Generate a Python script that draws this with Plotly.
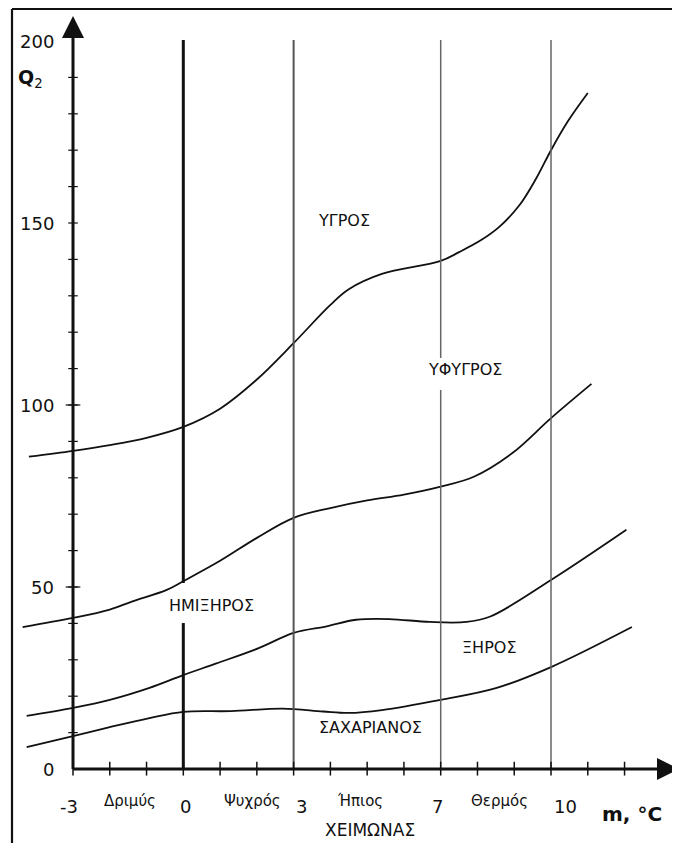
import plotly.graph_objects as go

# ---------------- data ----------------
# Boundary curves of the climate zones (x = m, °C ; y = Q2)
c1_x = [-4.2, -3, -2, -1, 0, 1, 2, 3, 4, 4.5, 5.4, 7, 7.5, 8.1, 8.6, 9.15, 9.6, 10, 10.45, 11.0]
c1_y = [85.8, 87.4, 89.0, 91.0, 94.0, 99.0, 107.0, 117.0, 127.5, 131.8, 136.0, 139.6, 142.0, 145.3, 149.0, 155.0, 162.3, 170.0, 177.8, 185.7]

c2_x = [-4.37, -3, -2, -1.4, -0.45, 0, 1, 2, 3, 4, 5, 6, 7, 7.9, 8.95, 10.0, 11.1]
c2_y = [39.0, 41.5, 43.8, 46.0, 49.2, 51.6, 57.2, 63.5, 69.0, 71.7, 73.8, 75.4, 77.6, 80.3, 86.8, 96.4, 105.8]

c3_x = [-4.26, -3, -2, -0.92, 0, 0.9, 2.05, 3, 3.9, 4.7, 5.6, 6.7, 7.7, 8.35, 10.0, 12.05]
c3_y = [14.6, 16.8, 19.0, 22.3, 25.8, 29.0, 33.2, 37.4, 39.2, 41.0, 41.2, 40.4, 40.4, 41.9, 51.9, 65.7]

c4_x = [-4.26, -3, -2, -0.92, 0, 1.3, 2.7, 3.8, 4.5, 5.4, 7, 8.5, 10.0, 12.2]
c4_y = [6.0, 9.0, 11.5, 14.0, 15.7, 15.9, 16.6, 15.8, 15.4, 16.2, 19.0, 22.2, 28.0, 39.0]

# axis ticks
x_minor_ticks = list(range(-3, 13))
y_minor_ticks = list(range(10, 200, 10))
y_tick_vals = [0, 50, 100, 150, 200]
x_num_ticks = [-3, 0, 3, 7, 10]
x_class_names = ["Δριμύς", "Ψυχρός", "Ήπιος", "Θερμός"]
zone_names = ["ΥΓΡΟΣ", "ΥΦΥΓΡΟΣ", "ΗΜΙΞΗΡΟΣ", "ΞΗΡΟΣ", "ΣΑΧΑΡΙΑΝΟΣ"]
v_lines = [-3, 0, 3, 7, 10]

# ---------------- layout helpers (positions / styles) ----------------
PAGE_W, PAGE_H = 680, 843
OFF = 8  # default page body margin
W, H = PAGE_W - OFF, PAGE_H - OFF
PX_PER_X = 36.77
PX_PER_Y = 3.64
X0_PX, Y0_PX = 73, 769  # page pixel of (x=-3, y=0)

def px_x(p):
    return -3 + (p - X0_PX) / PX_PER_X

def px_y(p):
    return (Y0_PX - p) / PX_PER_Y

x_range = [px_x(OFF), px_x(PAGE_W)]
y_range = [px_y(PAGE_H), px_y(OFF)]

FONT = "DejaVu Sans, Liberation Sans, Arial, sans-serif"
INK = "#111111"

fig = go.Figure()

for cx, cy in [(c1_x, c1_y), (c2_x, c2_y), (c3_x, c3_y), (c4_x, c4_y)]:
    fig.add_trace(go.Scatter(x=cx, y=cy, mode="lines",
                             line=dict(color=INK, width=1.8, shape="spline", smoothing=1.0),
                             hoverinfo="skip", showlegend=False))

shapes = []
# vertical reference lines
v_styles = {-3: (3, INK), 0: (3, INK), 3: (2, "#555555"), 7: (1.5, "#666666"), 10: (1.5, "#666666")}
gaps = {0: (40.1, 51.1), 7: (104.1, 112.9)}
for v in v_lines:
    w, c = v_styles[v]
    top = px_y(40) if v != -3 else px_y(30)
    if v in gaps:
        g0, g1 = gaps[v]
        segs = [(0, g0), (g1, top)]
    else:
        segs = [(0, top)]
    for a, b in segs:
        shapes.append(dict(type="line", x0=v, x1=v, y0=a, y1=b, xref="x", yref="y",
                           line=dict(color=c, width=w)))

# x axis line
shapes.append(dict(type="line", x0=-3, x1=px_x(665), y0=0, y1=0, xref="x", yref="y",
                   line=dict(color=INK, width=3)))
# x minor ticks
for t in x_minor_ticks:
    shapes.append(dict(type="line", x0=t, x1=t, y0=-1.8, y1=2.0, xref="x", yref="y",
                       line=dict(color=INK, width=1.5)))
# y minor ticks
for t in y_minor_ticks:
    shapes.append(dict(type="line", x0=-3 - 0.13, x1=-3 + 0.13, y0=t, y1=t, xref="x", yref="y",
                       line=dict(color=INK, width=1.2)))
for t in [50, 100]:
    shapes.append(dict(type="line", x0=-3 - 0.2, x1=-3 + 0.2, y0=t, y1=t, xref="x", yref="y",
                       line=dict(color=INK, width=1.2)))

# frame (top and left edges)
shapes.append(dict(type="line", x0=px_x(12), x1=x_range[1], y0=px_y(9), y1=px_y(9), xref="x", yref="y",
                   line=dict(color=INK, width=2.2)))
shapes.append(dict(type="line", x0=px_x(12), x1=px_x(12), y0=px_y(9), y1=y_range[0], xref="x", yref="y",
                   line=dict(color=INK, width=2.2)))

# axis arrowheads
fig.add_trace(go.Scatter(x=[-3], y=[px_y(16)], mode="markers",
                         marker=dict(symbol="arrow-up", size=22, color=INK),
                         hoverinfo="skip", showlegend=False))
fig.add_trace(go.Scatter(x=[px_x(679)], y=[0], mode="markers",
                         marker=dict(symbol="arrow-right", size=22, color=INK),
                         hoverinfo="skip", showlegend=False))

ann = []
# y tick labels
for v in y_tick_vals:
    ann.append(dict(x=px_x(56), y=v, xref="x", yref="y", text=str(v), showarrow=False,
                    xanchor="right", yanchor="middle", font=dict(size=18, family=FONT, color=INK)))
ann.append(dict(x=px_x(16), y=px_y(78), xref="x", yref="y", text="<b>Q</b><sub>2</sub>", showarrow=False,
                xanchor="left", yanchor="middle", font=dict(size=19, family=FONT, color=INK)))

# x numeric tick labels (slight offsets as in original)
num_pos_px = [69, 185, 301, 437, 565]
for v, p in zip(x_num_ticks, num_pos_px):
    ann.append(dict(x=px_x(p), y=px_y(806), xref="x", yref="y", text=str(v), showarrow=False,
                    xanchor="center", yanchor="middle", font=dict(size=18, family=FONT, color=INK)))
class_pos_px = [130, 252, 360, 499]
for name, p in zip(x_class_names, class_pos_px):
    ann.append(dict(x=px_x(p), y=px_y(801), xref="x", yref="y", text=name, showarrow=False,
                    xanchor="center", yanchor="middle", font=dict(size=15, family=FONT, color=INK)))
ann.append(dict(x=px_x(632), y=px_y(814), xref="x", yref="y", text="<b>m, °C</b>", showarrow=False,
                xanchor="center", yanchor="middle", font=dict(size=20, family=FONT, color=INK)))
ann.append(dict(x=px_x(370), y=px_y(830), xref="x", yref="y", text="ΧΕΙΜΩΝΑΣ", showarrow=False,
                xanchor="center", yanchor="middle", font=dict(size=17, family=FONT, color=INK)))

# zone names
zone_pos_px = [(344, 220), (465, 369), (211, 605), (489, 647), (370, 727)]
for name, (px, py) in zip(zone_names, zone_pos_px):
    ann.append(dict(x=px_x(px), y=px_y(py), xref="x", yref="y", text=name, showarrow=False,
                    xanchor="center", yanchor="middle", font=dict(size=16, family=FONT, color=INK)))

fig.update_layout(
    width=W, height=H,
    margin=dict(l=0, r=0, t=0, b=0),
    paper_bgcolor="white", plot_bgcolor="white",
    xaxis=dict(range=x_range, visible=False, fixedrange=True),
    yaxis=dict(range=y_range, visible=False, fixedrange=True),
    shapes=shapes, annotations=ann, showlegend=False,
)

fig.write_html("out.html", config={"displayModeBar": False})
